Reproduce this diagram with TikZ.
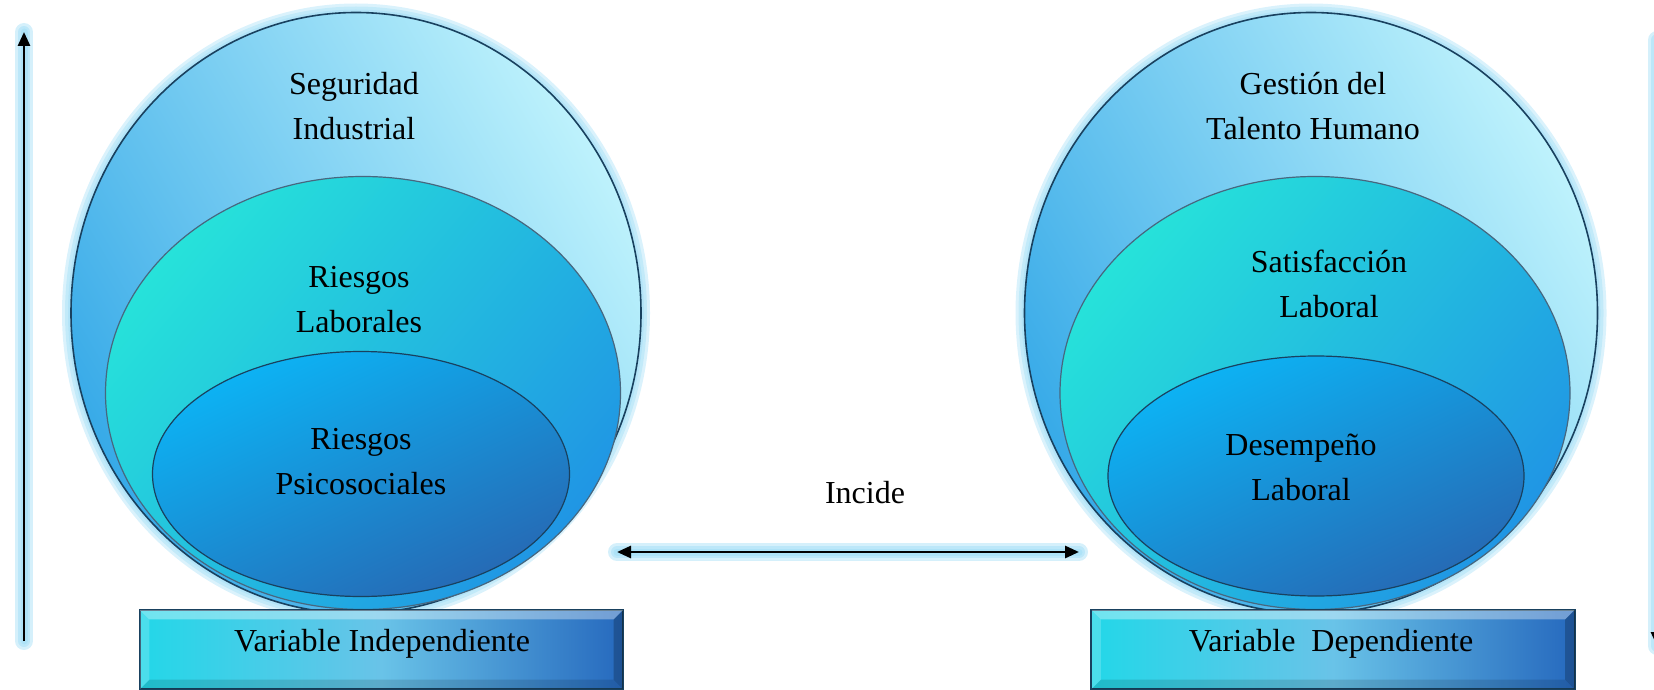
\documentclass[tikz,border=0pt]{standalone}
\usepackage{fontspec}
\setmainfont{Liberation Serif}
\usetikzlibrary{shapes.geometric,arrows.meta}
\definecolor{glow}{RGB}{150,218,245}
\definecolor{outerA}{RGB}{55,170,232}
\definecolor{outerB}{RGB}{190,242,252}
\definecolor{midA}{RGB}{38,226,218}
\definecolor{midB}{RGB}{32,150,228}
\definecolor{innA}{RGB}{12,180,245}
\definecolor{innB}{RGB}{38,105,180}
\definecolor{rim}{RGB}{25,65,95}
\definecolor{boxA}{RGB}{35,215,232}
\definecolor{boxM}{RGB}{105,195,232}
\definecolor{boxB}{RGB}{38,105,190}
\begin{document}
\begin{tikzpicture}[x=0.5pt,y=-0.5pt]
\tikzset{
 halo/.style={ellipse, inner sep=0, draw=glow, line width=#1, draw opacity=0.35},
 outerell/.style={ellipse, inner sep=0, top color=outerB, bottom color=outerA, shading angle=-60, draw=rim, line width=0.8pt},
 midell/.style={ellipse, inner sep=0, top color=midA, bottom color=midB, shading angle=50, draw=rim!80, line width=0.6pt},
 innell/.style={ellipse, inner sep=0, top color=innA, bottom color=innB, shading angle=25, draw=rim, line width=0.6pt},
 lbl/.style={align=center, font=\fontsize{16}{22.5}\selectfont, inner sep=0},
 boxst/.style={rectangle, inner sep=0, minimum width=241.5pt, minimum height=39.5pt, left color=boxA, right color=boxB, middle color=boxM, draw=rim, line width=0.6pt},
 gline/.style={draw=glow, line width=#1, line cap=round, draw opacity=0.4},
 aline/.style={draw=black, line width=1.4pt, -{Triangle[length=7pt,width=6pt]}},
 dline/.style={draw=black, line width=1.4pt, {Triangle[length=7pt,width=6pt]}-{Triangle[length=7pt,width=6pt]}},
}
\useasboundingbox (0,0) rectangle (1654,690);
% ---------- left group
\foreach \w in {9pt,6pt,3pt}{
 \node[halo=\w, minimum width=285pt, minimum height=300.5pt] at (356,313) {};
 \node[halo=\w, minimum width=286.5pt, minimum height=300.5pt] at (1311,313) {};
}
\node[outerell, minimum width=285pt, minimum height=300.5pt] (lo) at (356,313) {};
\node[midell, minimum width=257.5pt, minimum height=216.5pt] (lm) at (363,393) {};
\node[innell, minimum width=208.5pt, minimum height=122.5pt] (li) at (361,474) {};
\node[lbl] (t1) at (354,106) {Seguridad\\Industrial};
\node[lbl] (t2) at (359,300) {Riesgos\\Laborales};
\node[lbl] (t3) at (361,462) {Riesgos\\Psicosociales};
% ---------- right group
\node[outerell, minimum width=286.5pt, minimum height=300.5pt] (ro) at (1311,313) {};
\node[midell, minimum width=255pt, minimum height=216.5pt] (rm) at (1315,393) {};
\node[innell, minimum width=208pt, minimum height=120pt] (ri) at (1316,476) {};
\node[lbl] (t4) at (1313,106) {Gestión del\\Talento Humano};
\node[lbl] (t5) at (1329,284) {Satisfacción\\Laboral};
\node[lbl] (t6) at (1301,467) {Desempeño\\Laboral};
% ---------- boxes
\node[boxst] (bl) at (381.5,649.5) {};
\node[boxst] (br) at (1333,649.5) {};
\foreach \b in {bl,br}{
 \fill[white,opacity=0.35] (\b.north west) -- (\b.north east) -- ([shift={(-10,10)}]\b.north east) -- ([shift={(10,10)}]\b.north west) -- cycle;
 \fill[white,opacity=0.18] (\b.north west) -- ([shift={(10,10)}]\b.north west) -- ([shift={(10,-10)}]\b.south west) -- (\b.south west) -- cycle;
 \fill[black,opacity=0.22] (\b.north east) -- (\b.south east) -- ([shift={(-10,-10)}]\b.south east) -- ([shift={(-10,10)}]\b.north east) -- cycle;
 \fill[black,opacity=0.12] (\b.south west) -- (\b.south east) -- ([shift={(-10,-10)}]\b.south east) -- ([shift={(10,-10)}]\b.south west) -- cycle;
 \draw[rim, line width=0.6pt] (\b.north west) rectangle (\b.south east);
}
\node[lbl] (bt1) at (382,644) {Variable Independiente};
\node[lbl] (bt2) at (1331,644) {Variable\ \ Dependiente};
% ---------- arrows
\coordinate (la0) at (24,641);
\coordinate (la1) at (24,32);
\coordinate (ra0) at (1657,40);
\coordinate (ra1) at (1657,646);
\coordinate (ia) at (617,552);
\coordinate (ib) at (1079,552);
\foreach \w in {9pt,6pt,3.5pt}{
 \draw[gline=\w] (la0) -- (la1);
 \draw[gline=\w] (ra0) -- (ra1);
 \draw[gline=\w] (ia) -- (ib);
}
\draw[aline] (la0) -- (la1);
\draw[aline] (ra0) -- (ra1);
\draw[dline] (ia) -- (ib);
\node[lbl] (inc) at (865,493) {Incide};
\end{tikzpicture}
\end{document}
